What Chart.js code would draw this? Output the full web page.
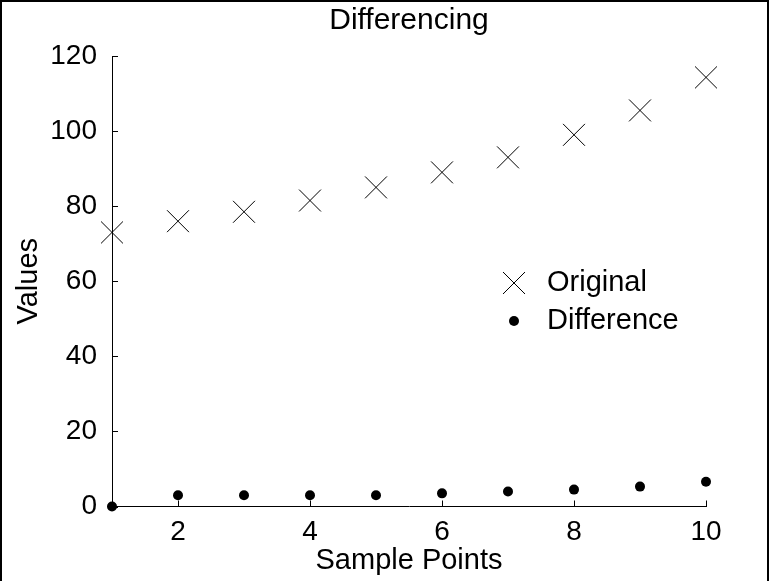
<!DOCTYPE html>
<html>
<head>
<meta charset="utf-8">
<script src="https://cdn.jsdelivr.net/npm/chart.js@4/dist/chart.umd.min.js"></script>
<style>
  html, body { margin: 0; padding: 0; background: #fff; }
  canvas { display: block; }
</style>
</head>
<body>
<canvas id="c" width="769" height="581"></canvas>
<script>
// ---- data ----
const samplePoints = [1, 2, 3, 4, 5, 6, 7, 8, 9, 10];
const originalValues = [73, 76, 78.5, 81.5, 85, 89, 93, 99, 105.5, 114.3];
const differenceValues = [0, 3, 3, 3, 3, 3.5, 4, 4.5, 5.3, 6.6];
const xTickValues = [2, 4, 6, 8, 10];
const yTickValues = [0, 20, 40, 60, 80, 100, 120];
const seriesNames = ['Original', 'Difference'];
const chartTitle = 'Differencing';
const xTitle = 'Sample Points';
const yTitle = 'Values';

const FONT = "'Liberation Sans', Arial, Helvetica, sans-serif";
const ink = '#000';
const FS = 29;

// inward ticks, page frame, title, legend (no box)
const decor = {
  id: 'decor',
  afterDraw(chart) {
    const ctx = chart.ctx;
    const xs = chart.scales.x, ys = chart.scales.y;
    const a = chart.chartArea;
    ctx.save();
    ctx.strokeStyle = ink;
    ctx.lineWidth = 1;
    ctx.beginPath();
    xs.ticks.forEach(t => {
      const px = Math.round(xs.getPixelForValue(t.value)) + 0.5;
      ctx.moveTo(px, a.bottom);
      ctx.lineTo(px, a.bottom - 6);
    });
    ys.ticks.forEach(t => {
      const py = Math.round(ys.getPixelForValue(t.value)) + 0.5;
      ctx.moveTo(a.left, py);
      ctx.lineTo(a.left + 6, py);
    });
    ctx.stroke();
    // frame (left, top, right)
    ctx.lineWidth = 2;
    ctx.beginPath();
    ctx.moveTo(1, chart.height);
    ctx.lineTo(1, 1);
    ctx.lineTo(chart.width - 1, 1);
    ctx.lineTo(chart.width - 1, chart.height);
    ctx.stroke();
    // title centred over the axes
    ctx.fillStyle = ink;
    ctx.font = (FS + 1) + "px " + FONT;
    ctx.textAlign = 'center';
    ctx.textBaseline = 'middle';
    ctx.fillText(chartTitle, (a.left + a.right) / 2, 21);
    // legend
    const mx = 514, tx = 547;
    const rows = [283, 321];
    ctx.font = FS + "px " + FONT;
    ctx.textAlign = 'left';
    ctx.lineWidth = 1;
    ctx.beginPath();
    ctx.moveTo(mx - 11, rows[0] - 11); ctx.lineTo(mx + 11, rows[0] + 11);
    ctx.moveTo(mx + 11, rows[0] - 11); ctx.lineTo(mx - 11, rows[0] + 11);
    ctx.stroke();
    ctx.fillText(seriesNames[0], tx, rows[0]);
    ctx.beginPath();
    ctx.arc(mx, rows[1], 5, 0, Math.PI * 2);
    ctx.fill();
    ctx.fillText(seriesNames[1], tx, rows[1]);
    ctx.restore();
  }
};

new Chart(document.getElementById('c'), {
  type: 'scatter',
  data: {
    datasets: [
      {
        label: seriesNames[0],
        data: samplePoints.map((x, i) => ({ x, y: originalValues[i] })),
        pointStyle: 'crossRot',
        pointRadius: 15.5,
        borderColor: ink,
        borderWidth: 1,
        backgroundColor: ink,
        clip: false
      },
      {
        label: seriesNames[1],
        data: samplePoints.map((x, i) => ({ x, y: differenceValues[i] })),
        pointStyle: 'circle',
        pointRadius: 5,
        borderWidth: 0,
        backgroundColor: ink,
        borderColor: ink,
        clip: false
      }
    ]
  },
  options: {
    responsive: false,
    animation: false,
    devicePixelRatio: 1,
    layout: { padding: { left: 0, right: 63, top: 56, bottom: 0 } },
    plugins: {
      legend: { display: false },
      tooltip: { enabled: false },
      title: { display: false }
    },
    scales: {
      x: {
        type: 'linear',
        min: 1, max: 10,
        afterBuildTicks: s => { s.ticks = xTickValues.map(v => ({ value: v })); },
        afterFit: s => { s.height = 74.5; },
        grid: { display: false },
        border: { display: true, color: ink, width: 1 },
        ticks: { color: ink, padding: 1, font: { family: FONT, size: FS - 1 }, maxRotation: 0, autoSkip: false },
        title: { display: true, text: xTitle, color: ink, padding: { top: 0, bottom: 3 }, font: { family: FONT, size: FS } }
      },
      y: {
        type: 'linear',
        min: 0, max: 120,
        afterBuildTicks: s => { s.ticks = yTickValues.map(v => ({ value: v })); },
        afterFit: s => { s.width = 112; },
        grid: { display: false },
        border: { display: true, color: ink, width: 1 },
        ticks: { color: ink, padding: 7, font: { family: FONT, size: FS - 1 }, autoSkip: false },
        title: { display: true, text: yTitle, color: ink, padding: { top: 12, bottom: 0 }, font: { family: FONT, size: FS } }
      }
    }
  },
  plugins: [decor]
});
</script>
</body>
</html>
